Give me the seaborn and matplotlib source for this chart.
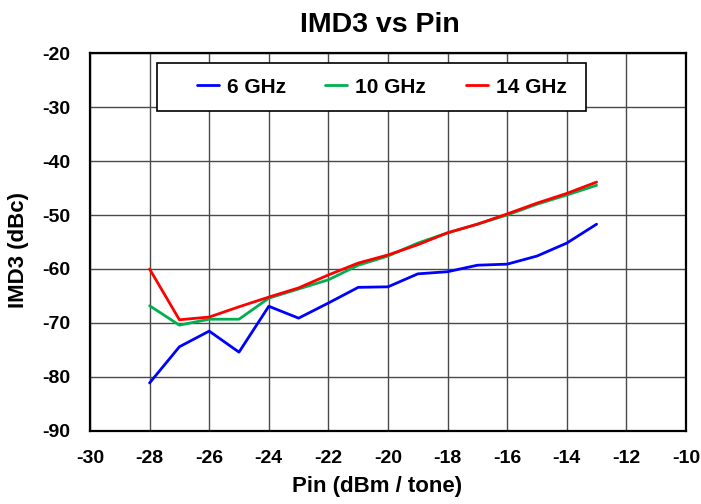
import numpy as np
import pandas as pd
import matplotlib
matplotlib.use('Agg')
import matplotlib.pyplot as plt
from matplotlib.patches import Rectangle
import seaborn as sns

# data
pin = [-28, -27, -26, -25, -24, -23, -22, -21, -20, -19, -18, -17, -16, -15, -14, -13]
imd3_6ghz = [-81.1, -74.4, -71.5, -75.4, -66.9, -69.1, -66.3, -63.4, -63.3, -60.9, -60.5, -59.3, -59.1, -57.6, -55.2, -51.7]
imd3_10ghz = [-66.8, -70.4, -69.3, -69.3, -65.4, -63.7, -62.0, -59.3, -57.6, -55.2, -53.3, -51.7, -50.0, -48.0, -46.3, -44.5]
imd3_14ghz = [-60.0, -69.4, -68.9, -67.0, -65.2, -63.5, -61.1, -58.9, -57.4, -55.5, -53.3, -51.7, -49.8, -47.8, -46.0, -43.9]
series = ['6 GHz', '10 GHz', '14 GHz']
colors = ['#0000FF', '#00B050', '#FF0000']

df = pd.DataFrame({
    'Pin': pin * 3,
    'IMD3': imd3_6ghz + imd3_10ghz + imd3_14ghz,
    'Freq': [s for s in series for _ in pin],
})

sns.set_style('white')
plt.rcParams['font.family'] = ['Liberation Sans', 'DejaVu Sans']
plt.rcParams['axes.unicode_minus'] = False
plt.rcParams['text.color'] = 'black'
plt.rcParams['axes.labelcolor'] = 'black'
plt.rcParams['xtick.color'] = 'black'
plt.rcParams['ytick.color'] = 'black'

fig = plt.figure(figsize=(7.01, 5.04), dpi=100)
ax = fig.add_axes([90/701, 1 - 431/504, 596/701, 378/504])

sns.lineplot(data=df, x='Pin', y='IMD3', hue='Freq', hue_order=series,
             palette=colors, linewidth=2, ax=ax, sort=False)

ax.set_xlim(-30, -10)
ax.set_ylim(-90, -20)
ax.set_xticks(np.arange(-30, -9, 2))
ax.set_yticks(np.arange(-90, -19, 10))
ax.grid(True, color='#4a4a4a', linewidth=1)
for s in ax.spines.values():
    s.set_color('black')
    s.set_linewidth(1.6)
ax.tick_params(axis='x', length=0, pad=14, labelsize=14)
ax.tick_params(axis='y', length=0, pad=14, labelsize=14)
for lab in ax.get_xticklabels() + ax.get_yticklabels():
    lab.set_fontweight('bold')

ax.set_title('IMD3 vs Pin', fontsize=20.5, fontweight='bold', pad=15, x=0.487)
ax.set_xlabel('Pin (dBm / tone)', fontsize=16, fontweight='bold')
ax.set_ylabel('IMD3 (dBc)', fontsize=16, fontweight='bold', labelpad=10)
ax.xaxis.set_label_coords(0.4815, -0.12)
ax.yaxis.label.set_y(0.479)

# legend box drawn as its own frame, entries placed inside it
ax.add_patch(Rectangle((0.112, 0.847), 0.72, 0.127, transform=ax.transAxes,
                       facecolor='white', edgecolor='black', linewidth=1.2,
                       zorder=4))
leg = ax.legend(loc='center left', bbox_to_anchor=(0.1795, 0.910),
                ncol=3, frameon=False, prop={'weight': 'bold', 'size': 15},
                handlelength=1.05, handletextpad=0.38, columnspacing=1.9,
                borderpad=0, borderaxespad=0)
leg.set_zorder(6)

fig.savefig('out.png', dpi=100)
